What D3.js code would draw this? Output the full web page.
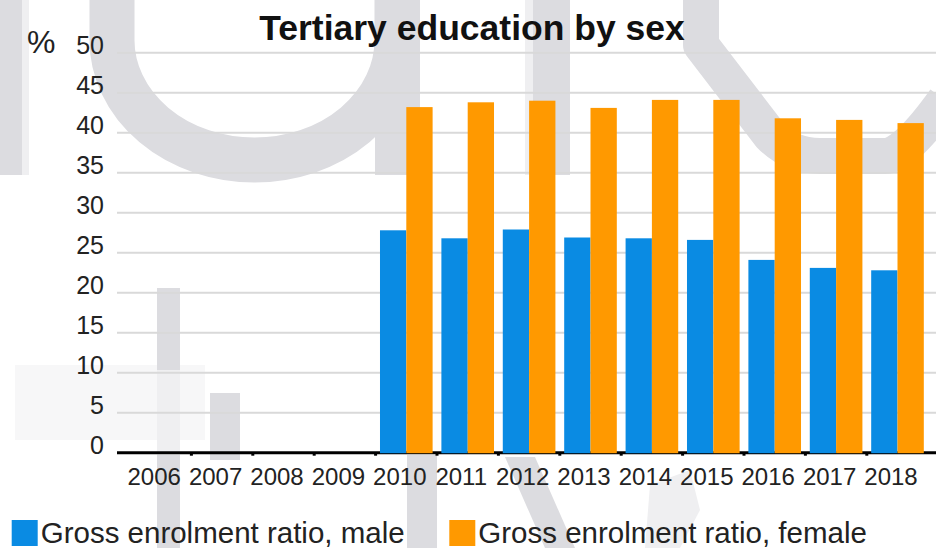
<!DOCTYPE html>
<html><head><meta charset="utf-8">
<script src="https://cdn.jsdelivr.net/npm/d3@7"></script>
<style>
html,body{margin:0;padding:0;background:#fff;}
svg{display:block;font-family:"Liberation Sans",Arial,sans-serif;}
</style></head>
<body><svg id="chart" width="936" height="548"></svg>
<script>
// ---- data ----
const years = ["2006","2007","2008","2009","2010","2011","2012","2013","2014","2015","2016","2017","2018"];
const maleValues = [null,null,null,null,27.8,26.8,27.9,26.9,26.8,26.6,24.1,23.1,22.8];
const femaleValues = [null,null,null,null,43.2,43.8,44.0,43.1,44.1,44.1,41.8,41.6,41.2];
const seriesNames = ["Gross enrolment ratio, male","Gross enrolment ratio, female"];
const seriesColors = ["#0a8be3","#ff9900"];
const yTicks = [0,5,10,15,20,25,30,35,40,45,50];
const title = "Tertiary education by sex";
const unitLabel = "%";

const W = 936, H = 548;
const svg = d3.select("#chart");

// ---- background watermark (decorative) ----
const wm = svg.append("g").attr("class","watermark");
const wmCol = "#dcdce0", wmLight = "#efeff1";
wm.append("rect").attr("x",0).attr("y",0).attr("width",22).attr("height",175).attr("fill",wmCol);
wm.append("rect").attr("x",22).attr("y",0).attr("width",7).attr("height",175).attr("fill",wmLight);
wm.append("path").attr("d","M112,-5 L112,40 A142.5,120 0 0 0 397,40 L397,-5")
  .attr("fill","none").attr("stroke",wmCol).attr("stroke-width",45);
wm.append("rect").attr("x",375).attr("y",0).attr("width",45).attr("height",175).attr("fill",wmCol);
wm.append("rect").attr("x",525).attr("y",0).attr("width",8).attr("height",175).attr("fill",wmLight);
wm.append("rect").attr("x",533).attr("y",0).attr("width",37).attr("height",175).attr("fill",wmCol);
wm.append("path").attr("d","M701,-5 L701,45 L770,135 Q790,156 820,156 L885,156 Q905,156 945,100")
  .attr("fill","none").attr("stroke",wmCol).attr("stroke-width",36).attr("stroke-linejoin","round");
wm.append("rect").attr("x",15).attr("y",365).attr("width",190).attr("height",75).attr("fill","#f7f7f8");
wm.append("rect").attr("x",157).attr("y",288).attr("width",23).attr("height",82).attr("fill",wmCol);
wm.append("rect").attr("x",157).attr("y",370).attr("width",23).attr("height",85).attr("fill",wmLight);
wm.append("rect").attr("x",157).attr("y",455).attr("width",23).attr("height",93).attr("fill",wmCol);
wm.append("rect").attr("x",210).attr("y",393).attr("width",30).attr("height",67).attr("fill",wmCol);
wm.append("rect").attr("x",407).attr("y",455).attr("width",30).attr("height",93).attr("fill",wmCol);
wm.append("path").attr("d","M505,457 L535,457 L575,548 L545,548 Z").attr("fill",wmCol);
wm.append("path").attr("d","M650,485 L690,470 L700,510 L680,548 L645,548 Z").attr("fill",wmLight);

// ---- scales ----
const plotLeft = 117, plotRight = 936;
const y = d3.scaleLinear().domain([0,50]).range([452.7,52.7]);
const x0 = d3.scaleBand().domain(years).range([130,928.2]).paddingInner(0.143).paddingOuter(0.0715);
const x1 = d3.scaleBand().domain([0,1]).range([0,x0.bandwidth()]);

// gridlines
svg.append("g").selectAll("line").data(yTicks.filter(d=>d>0)).join("line")
  .attr("x1",plotLeft).attr("x2",plotRight)
  .attr("y1",d=>y(d)).attr("y2",d=>y(d))
  .attr("stroke","#d9d9d9").attr("stroke-width",2);

// baseline axis with ticks at band boundaries
svg.append("line").attr("x1",plotLeft).attr("x2",plotRight)
  .attr("y1",y(0)).attr("y2",y(0)).attr("stroke","#000").attr("stroke-width",3);
const boundaries = years.slice(1).map(yr => x0(yr) - x0.step()*x0.paddingInner()/2);
svg.append("g").selectAll("line").data(boundaries).join("line")
  .attr("x1",d=>d).attr("x2",d=>d).attr("y1",y(0)).attr("y2",y(0)+3)
  .attr("stroke","#000").attr("stroke-width",3);

// bars
const rows = years.map((yr,i)=>({year:yr, vals:[maleValues[i],femaleValues[i]]}));
const groups = svg.append("g").selectAll("g").data(rows).join("g")
  .attr("transform",d=>`translate(${x0(d.year)},0)`);
groups.selectAll("rect").data(d=>d.vals.map((v,k)=>({v,k})).filter(e=>e.v!=null)).join("rect")
  .attr("x",e=>x1(e.k)).attr("width",x1.bandwidth())
  .attr("y",e=>y(e.v)).attr("height",e=>y(0)-y(e.v)+0.5)
  .attr("fill",e=>seriesColors[e.k]);

// y-axis labels
const yAxis = d3.axisLeft(y).tickValues(yTicks).tickSize(0).tickPadding(0);
const yg = svg.append("g").attr("transform","translate(104,0)").call(yAxis);
yg.select(".domain").remove();
yg.selectAll("text").attr("font-size",25).attr("fill","#222")
  .attr("font-family","'Liberation Sans',Arial,sans-serif")
  .attr("dy",0).attr("y",0.5).attr("text-anchor","end");

// x-axis labels
const xAxis = d3.axisBottom(x0).tickSize(0).tickPadding(0);
const xg = svg.append("g").attr("transform",`translate(-6.5,485)`).call(xAxis);
xg.select(".domain").remove();
xg.selectAll("text").attr("font-size",24).attr("fill","#222")
  .attr("font-family","'Liberation Sans',Arial,sans-serif")
  .attr("dy",0).attr("y",0);

// unit label
svg.append("text").attr("x",27).attr("y",53.3).attr("font-size",32).attr("fill","#222").text(unitLabel);

// title
svg.append("text").attr("x",472).attr("y",39.5).attr("text-anchor","middle")
  .attr("font-size",35.5).attr("font-weight","bold").attr("fill","#111").text(title);

// legend
const legendX = [11.7,449.3];
const lg = svg.append("g").selectAll("g").data(seriesNames).join("g")
  .attr("transform",(d,i)=>`translate(${legendX[i]},520)`);
lg.append("rect").attr("width",26).attr("height",26).attr("fill",(d,i)=>seriesColors[i]);
lg.append("text").attr("x",29).attr("y",23.3).attr("font-size",29.5).attr("fill","#222").text(d=>d);
</script></body></html>
